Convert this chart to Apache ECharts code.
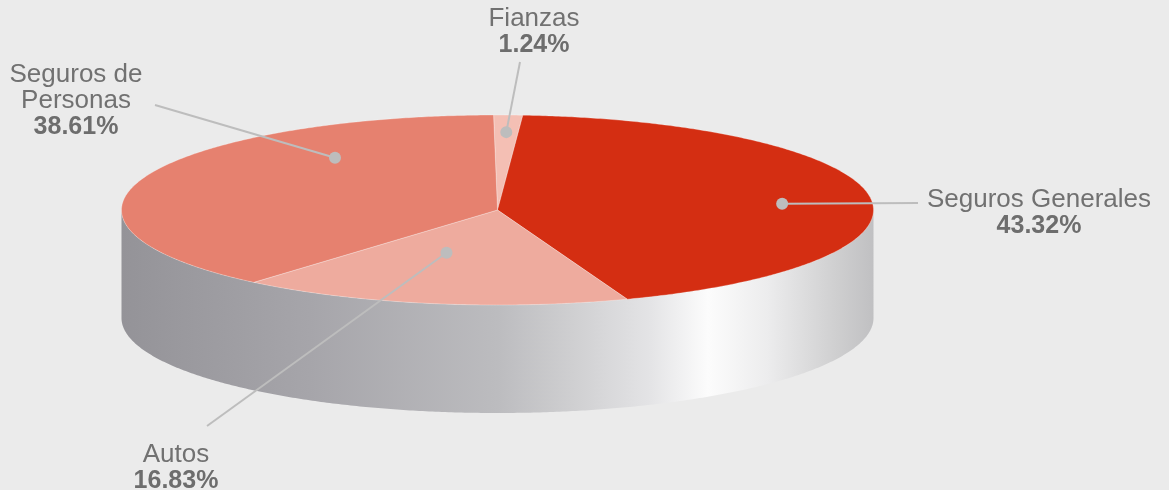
<!DOCTYPE html>
<html>
<head>
<meta charset="utf-8">
<script src="https://cdn.jsdelivr.net/npm/echarts@6/dist/echarts.min.js"></script>
<style>
  html, body { margin: 0; padding: 0; background: #ebebeb; }
  #chart { width: 1169px; height: 490px; }
</style>
</head>
<body>
<div id="chart"></div>
<script>
// Portfolio share by line of business, clockwise from the top
const categories = ['Fianzas', 'Seguros Generales', 'Autos', 'Seguros de\nPersonas'];
const shares = [1.24, 43.32, 16.83, 38.61];
const sliceColors = ['#f4bfb4', '#d42e12', '#eeab9e', '#e6816f'];

// Geometry of the tilted disc (pixels)
const CX = 497.5, CY = 210, RX = 376, RY = 95, DEPTH = 108;
const START_DEG = -0.6;

// Leader placement per slice: dot position within the slice, line end, text anchor
const leaders = [
  { frac: 0.50, r: 0.82, end: [520, 62],  text: [534, 6] },
  { frac: 0.52, r: 0.76, end: [918, 203], text: [1039, 187] },
  { frac: 0.61, r: 0.47, end: [207, 426], text: [176, 442] },
  { frac: 0.73, r: 0.70, end: [155, 105], text: [76, 62] }
];

const total = shares.reduce((a, b) => a + b, 0);
const bounds = [];
let acc = START_DEG;
shares.forEach(v => { const a0 = acc; acc += v / total * 360; bounds.push([a0, acc]); });

function pt(deg, r, dy) {
  const t = deg * Math.PI / 180;
  return [CX + RX * r * Math.sin(t), CY - RY * r * Math.cos(t) + (dy || 0)];
}

function arc(a0, a1, dy) {
  const pts = [];
  const n = Math.max(2, Math.ceil(Math.abs(a1 - a0) / 0.5));
  for (let i = 0; i <= n; i++) pts.push(pt(a0 + (a1 - a0) * i / n, 1, dy));
  return pts;
}

const sideGradient = new echarts.graphic.LinearGradient(0, 0, 1, 0, [
  { offset: 0.00, color: '#949398' },
  { offset: 0.25, color: '#a6a5aa' },
  { offset: 0.50, color: '#bcbcbf' },
  { offset: 0.60, color: '#cfcfd1' },
  { offset: 0.70, color: '#e3e3e5' },
  { offset: 0.78, color: '#fcfcfc' },
  { offset: 0.86, color: '#ececed' },
  { offset: 0.95, color: '#cfcfd0' },
  { offset: 1.00, color: '#c0c0c2' }
]);

const FONT = '"Liberation Sans", Arial, sans-serif';

const chart = echarts.init(document.getElementById('chart'), null, { renderer: 'canvas' });

chart.setOption({
  backgroundColor: '#ebebeb',
  animation: false,
  series: [
    {
      // visible wall of the disc
      type: 'custom',
      coordinateSystem: 'none',
      silent: true,
      z: 1,
      data: [0],
      renderItem: function () {
        const top = arc(90, 270, 0);
        const bottom = arc(270, 90, DEPTH);
        return {
          type: 'polygon',
          shape: { points: top.concat(bottom) },
          style: { fill: sideGradient }
        };
      }
    },
    {
      // top face slices
      type: 'custom',
      coordinateSystem: 'none',
      silent: true,
      z: 2,
      data: shares.map((v, i) => ({ value: v, name: categories[i] })),
      renderItem: function (params) {
        const b = bounds[params.dataIndex];
        const pts = [[CX, CY]].concat(arc(b[0], b[1], 0));
        return {
          type: 'polygon',
          shape: { points: pts },
          style: {
            fill: sliceColors[params.dataIndex],
            stroke: 'rgba(255,255,255,0.35)',
            lineWidth: 0.8
          }
        };
      }
    },
    {
      // leader lines, dots and labels
      type: 'custom',
      coordinateSystem: 'none',
      silent: true,
      z: 3,
      data: shares.map((v, i) => ({ value: v, name: categories[i] })),
      renderItem: function (params, api) {
        const i = params.dataIndex;
        const b = bounds[i];
        const L = leaders[i];
        const dot = pt(b[0] + (b[1] - b[0]) * L.frac, L.r, 0);
        const value = api.value(0);
        return {
          type: 'group',
          children: [
            {
              type: 'line',
              shape: { x1: dot[0], y1: dot[1], x2: L.end[0], y2: L.end[1] },
              style: { stroke: '#bdbdbd', lineWidth: 2 }
            },
            {
              type: 'circle',
              shape: { cx: dot[0], cy: dot[1], r: 6 },
              style: { fill: '#bdbdbd' }
            },
            {
              type: 'text',
              style: {
                x: L.text[0],
                y: L.text[1],
                align: 'center',
                verticalAlign: 'top',
                fill: '#707070',
                text: '{n|' + categories[i] + '}\n{v|' + value.toFixed(2) + '%}',
                rich: {
                  n: {
                    fontFamily: FONT,
                    fontSize: 26,
                    lineHeight: 26,
                    fill: '#717171',
                    align: 'center'
                  },
                  v: {
                    fontFamily: FONT,
                    fontSize: 25,
                    fontWeight: 'bold',
                    lineHeight: 27,
                    fill: '#6d6d6d',
                    align: 'center'
                  }
                }
              }
            }
          ]
        };
      }
    }
  ]
});
</script>
</body>
</html>
